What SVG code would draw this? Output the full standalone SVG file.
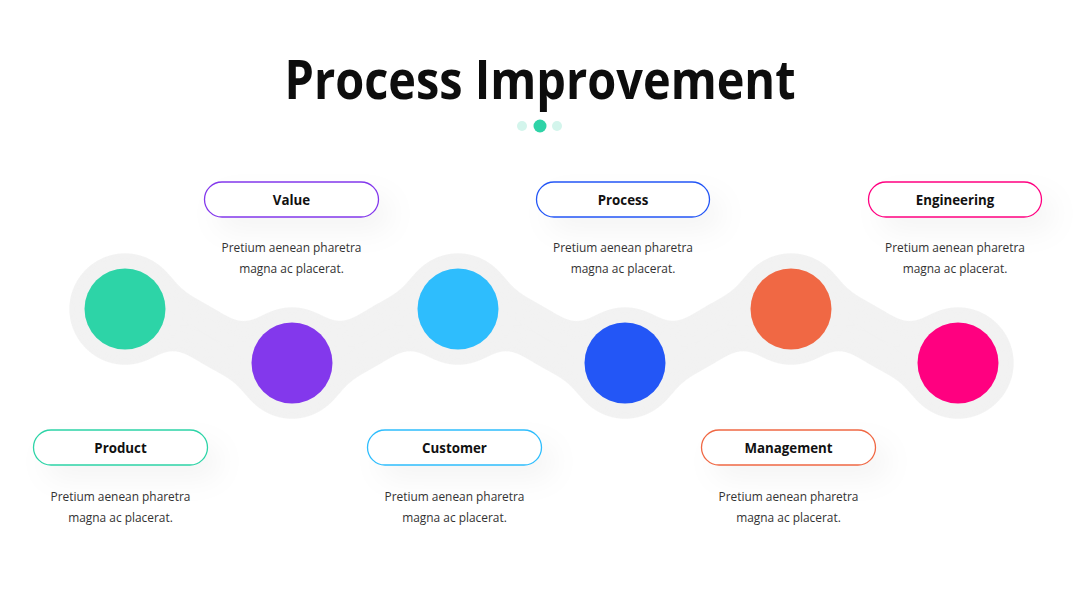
<svg xmlns="http://www.w3.org/2000/svg" width="1080" height="608" viewBox="0 0 1080 608">
<defs>
<filter id="sh" x="-40%" y="-60%" width="200%" height="300%">
<feDropShadow dx="12" dy="14" stdDeviation="14" flood-color="#000" flood-opacity="0.045"/>
</filter>
<filter id="goo" x="-10%" y="-30%" width="120%" height="160%">
<feGaussianBlur in="SourceGraphic" stdDeviation="13" result="b"/>
<feColorMatrix in="b" type="matrix" values="1 0 0 0 0  0 1 0 0 0  0 0 1 0 0  0 0 0 30 -14"/>
</filter>
</defs>
<style>
.title{font-family:"Open Sans","Liberation Sans",sans-serif;font-weight:700;font-size:54px;fill:#0d0d0d;text-anchor:middle}
.pill{fill:#fff;stroke-width:1.3}
.lbl{font-family:"Open Sans","Liberation Sans",sans-serif;font-weight:700;font-size:13.3px;fill:#111;text-anchor:middle}
.desc{font-family:"Open Sans","Liberation Sans",sans-serif;font-size:11.9px;fill:#333;text-anchor:middle}
.halo{fill:#f2f2f2}
.band{fill:none;stroke:#f2f2f2;stroke-width:52}
.card{fill:#fff;filter:url(#sh)}
</style>
<rect width="1080" height="608" fill="#fff"/>
<text class="title" x="540" y="99" textLength="511" lengthAdjust="spacingAndGlyphs">Process Improvement</text>
<g id="dots">
<circle cx="522" cy="126" r="5" fill="#d3f5ec"/>
<circle cx="540" cy="126" r="6.5" fill="#2ed3a7"/>
<circle cx="557" cy="126" r="5" fill="#d3f5ec"/>
</g>
<g id="connectors" filter="url(#goo)">
<path class="band" d="M125,309 C208,309 208,363 292,363 C375,363 375,309 458,309 C541,309 541,363 625,363 C708,363 708,309 791,309 C874,309 874,363 958,363"/>
<circle class="halo" cx="125" cy="309" r="56.5"/>
<circle class="halo" cx="292" cy="363" r="56.5"/>
<circle class="halo" cx="458" cy="309" r="56.5"/>
<circle class="halo" cx="625" cy="363" r="56.5"/>
<circle class="halo" cx="791" cy="309" r="56.5"/>
<circle class="halo" cx="958" cy="363" r="56.5"/>
</g>
<g id="circle-product"><circle cx="125" cy="309" r="40.5" fill="#2dd4a7"/></g>
<g id="circle-value"><circle cx="292" cy="363" r="40.5" fill="#8338ec"/></g>
<g id="circle-customer"><circle cx="458" cy="309" r="40.5" fill="#2ebdfd"/></g>
<g id="circle-process"><circle cx="625" cy="363" r="40.5" fill="#2356f6"/></g>
<g id="circle-management"><circle cx="791" cy="309" r="40.5" fill="#f06844"/></g>
<g id="circle-engineering"><circle cx="958" cy="363" r="40.5" fill="#ff0080"/></g>

<g id="value">
<rect class="card" x="204" y="182" width="175" height="35" rx="17.5"/>
<rect class="pill" x="204.5" y="182" width="174" height="35" rx="17.5" stroke="#8338ec"/>
<text class="lbl" x="291.5" y="204.5">Value</text>
<text class="desc" x="291.5" y="251.5">Pretium aenean pharetra</text>
<text class="desc" x="291.5" y="273">magna ac placerat.</text>
</g>
<g id="process">
<rect class="card" x="536" y="182" width="174" height="35" rx="17.5"/>
<rect class="pill" x="536.5" y="182" width="173" height="35" rx="17.5" stroke="#2356f6"/>
<text class="lbl" x="623" y="204.5">Process</text>
<text class="desc" x="623" y="251.5">Pretium aenean pharetra</text>
<text class="desc" x="623" y="273">magna ac placerat.</text>
</g>
<g id="engineering">
<rect class="card" x="868" y="182" width="174" height="35" rx="17.5"/>
<rect class="pill" x="868.5" y="182" width="173" height="35" rx="17.5" stroke="#ff0080"/>
<text class="lbl" x="955" y="204.5">Engineering</text>
<text class="desc" x="955" y="251.5">Pretium aenean pharetra</text>
<text class="desc" x="955" y="273">magna ac placerat.</text>
</g>
<g id="product">
<rect class="card" x="33" y="430" width="175" height="35" rx="17.5"/>
<rect class="pill" x="33.5" y="430" width="174" height="35" rx="17.5" stroke="#2dd4a7"/>
<text class="lbl" x="120.5" y="452.5">Product</text>
<text class="desc" x="120.5" y="500.5">Pretium aenean pharetra</text>
<text class="desc" x="120.5" y="522">magna ac placerat.</text>
</g>
<g id="customer">
<rect class="card" x="367" y="430" width="175" height="35" rx="17.5"/>
<rect class="pill" x="367.5" y="430" width="174" height="35" rx="17.5" stroke="#2ebdfd"/>
<text class="lbl" x="454.5" y="452.5">Customer</text>
<text class="desc" x="454.5" y="500.5">Pretium aenean pharetra</text>
<text class="desc" x="454.5" y="522">magna ac placerat.</text>
</g>
<g id="management">
<rect class="card" x="701" y="430" width="175" height="35" rx="17.5"/>
<rect class="pill" x="701.5" y="430" width="174" height="35" rx="17.5" stroke="#f06844"/>
<text class="lbl" x="788.5" y="452.5">Management</text>
<text class="desc" x="788.5" y="500.5">Pretium aenean pharetra</text>
<text class="desc" x="788.5" y="522">magna ac placerat.</text>
</g>
</svg>
